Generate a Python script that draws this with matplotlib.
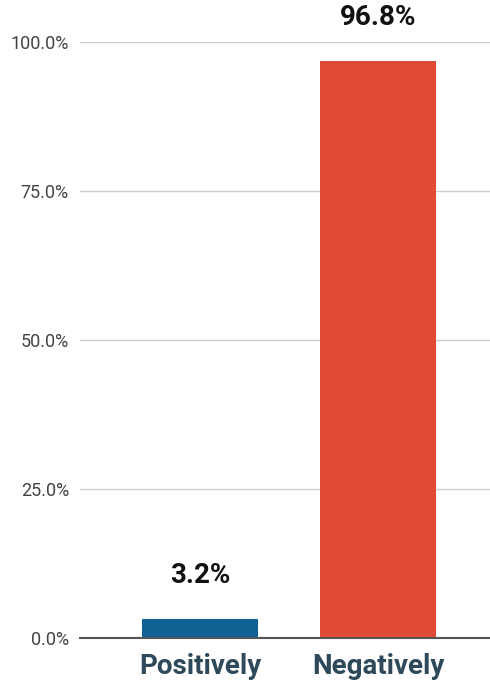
import matplotlib.pyplot as plt
from matplotlib.ticker import FuncFormatter

categories = ["Positively", "Negatively"]
values = [3.2, 96.8]
colors = ["#0f6293", "#e04b38"]
yticks = [0, 25, 50, 75, 100]

plt.rcParams['font.family'] = ['Roboto', 'DejaVu Sans']

fig = plt.figure(figsize=(4.9, 6.83), dpi=100)
ax = fig.add_axes([80/490, 45/683, 410/490, 596/683])

x = list(range(len(categories)))
bars = ax.bar(x, values, width=0.65, color=colors, zorder=3)
for xi, v in zip(x, values):
    ax.text(xi, v + 5.1, f"{v:.1f}%", ha='center', va='bottom', fontsize=20,
            fontweight='bold', color='#111111', clip_on=False)

ax.set_xlim(-0.674, 1.629)
ax.set_ylim(0, 100)
ax.set_yticks(yticks)
ax.yaxis.set_major_formatter(FuncFormatter(lambda v, p: f"{v:.1f}%"))
ax.set_xticks(x)
ax.set_xticklabels(categories, fontsize=20, fontweight='bold', color='#2e4a5a')
ax.tick_params(axis='y', length=0, labelsize=13, labelcolor='#444444', pad=8)
ax.tick_params(axis='x', length=0, pad=11)
ax.grid(axis='y', color='#cccccc', linewidth=1, zorder=0)
for s in ['top', 'right', 'left']:
    ax.spines[s].set_visible(False)
ax.spines['bottom'].set_color('#555555')
ax.spines['bottom'].set_linewidth(1.5)
ax.spines['bottom'].set_zorder(4)

fig.savefig("out.png", dpi=100)
